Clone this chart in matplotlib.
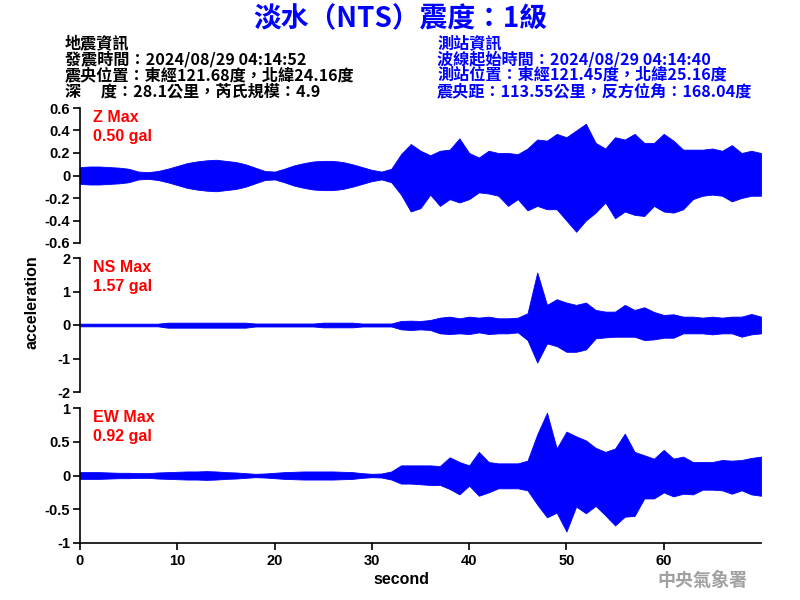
import matplotlib
matplotlib.use("Agg")
import matplotlib.pyplot as plt
from matplotlib import font_manager
import numpy as np

# ---------------- data (envelopes, 1 s steps) ----------------
t = list(range(0, 71))

z_upper = [.075, .08, .08, .075, .07, .06, .035, .03, .04, .06,
           .085, .11, .125, .135, .14, .13, .12, .10, .07, .04,
           .035, .06, .09, .11, .125, .13, .13, .12, .10, .075,
           .05, .035, .06, .19, .28, .22, .18, .22, .23, .33,
           .20, .16, .22, .20, .20, .19, .24, .32, .31, .37,
           .34, .40, .46, .29, .24, .34, .32, .37, .29, .29,
           .37, .31, .23, .23, .23, .24, .22, .27, .20, .22, .20]
z_lower = [-.075, -.08, -.08, -.075, -.07, -.06, -.035, -.03, -.04, -.06,
           -.085, -.11, -.125, -.135, -.14, -.13, -.12, -.10, -.07, -.04,
           -.035, -.06, -.09, -.11, -.125, -.13, -.13, -.12, -.10, -.075,
           -.05, -.035, -.06, -.17, -.32, -.29, -.17, -.27, -.21, -.24,
           -.21, -.15, -.16, -.18, -.27, -.21, -.31, -.27, -.30, -.30,
           -.40, -.50, -.40, -.33, -.24, -.38, -.32, -.35, -.36, -.27,
           -.32, -.33, -.30, -.21, -.18, -.17, -.18, -.23, -.20, -.18, -.18]

ns_upper = [.04, .04, .04, .04, .04, .04, .04, .04, .04, .07,
            .07, .07, .07, .07, .07, .07, .07, .07, .045, .045,
            .045, .045, .045, .045, .045, .07, .07, .07, .07, .045,
            .045, .045, .045, .12, .13, .12, .15, .22, .25, .20,
            .25, .22, .25, .20, .20, .22, .35, 1.57, .60, .77,
            .67, .60, .67, .45, .40, .40, .60, .45, .53, .39,
            .30, .32, .25, .25, .22, .25, .22, .25, .25, .33, .25]
ns_lower = [-.04, -.04, -.04, -.04, -.04, -.04, -.04, -.04, -.04, -.08,
            -.08, -.08, -.08, -.08, -.08, -.08, -.08, -.08, -.045, -.045,
            -.045, -.045, -.045, -.045, -.045, -.07, -.07, -.07, -.07, -.045,
            -.045, -.045, -.045, -.13, -.15, -.13, -.15, -.25, -.27, -.25,
            -.27, -.22, -.27, -.25, -.25, -.22, -.45, -1.12, -.55, -.63,
            -.80, -.80, -.73, -.40, -.37, -.35, -.35, -.35, -.45, -.43,
            -.38, -.38, -.25, -.25, -.25, -.28, -.25, -.25, -.35, -.28, -.25]

ew_upper = [.05, .05, .05, .045, .04, .04, .035, .035, .045, .05,
            .055, .06, .06, .065, .06, .05, .045, .035, .025, .03,
            .04, .05, .055, .06, .06, .06, .06, .055, .05, .035,
            .025, .03, .06, .15, .15, .15, .15, .14, .27, .20,
            .15, .35, .20, .18, .18, .18, .22, .61, .93, .40,
            .65, .58, .52, .41, .35, .40, .62, .35, .30, .25,
            .38, .25, .28, .20, .20, .20, .23, .22, .23, .26, .28]
ew_lower = [-.05, -.05, -.05, -.045, -.04, -.04, -.035, -.035, -.045, -.05,
            -.055, -.06, -.06, -.065, -.06, -.05, -.045, -.035, -.025, -.03,
            -.04, -.05, -.055, -.06, -.06, -.06, -.06, -.055, -.05, -.035,
            -.025, -.03, -.06, -.12, -.12, -.13, -.14, -.14, -.20, -.28,
            -.15, -.30, -.25, -.19, -.19, -.19, -.22, -.43, -.62, -.55,
            -.83, -.46, -.56, -.45, -.59, -.74, -.61, -.60, -.34, -.34,
            -.25, -.31, -.27, -.28, -.21, -.21, -.22, -.27, -.22, -.28, -.30]

channels = ["Z", "NS", "EW"]
max_labels = ["0.50 gal", "1.57 gal", "0.92 gal"]
y_ticks = [[0.6, 0.4, 0.2, 0, -0.2, -0.4, -0.6], [2, 1, 0, -1, -2], [1, 0.5, 0, -0.5, -1]]
y_ticklabels = [["0.6", "0.4", "0.2", "0", "-0.2", "-0.4", "-0.6"],
                ["2", "1", "0", "-1", "-2"],
                ["1", "0.5", "0", "-0.5", "-1"]]
x_ticks = [0, 10, 20, 30, 40, 50, 60]

title = "淡水（NTS）震度：1級"
left_info = ["地震資訊", "發震時間：2024/08/29 04:14:52",
             "震央位置：東經121.68度，北緯24.16度", "深\u3000 度：28.1公里，芮氏規模：4.9"]
right_info = ["測站資訊", "波線起始時間：2024/08/29 04:14:40",
              "測站位置：東經121.45度，北緯25.16度", "震央距：113.55公里，反方位角：168.04度"]

# ---------------- fonts ----------------
names = {f.name for f in font_manager.fontManager.ttflist}
num_font = "Liberation Sans Narrow" if "Liberation Sans Narrow" in names else "Liberation Sans"
cjk = ["Noto Sans CJK TC", "DejaVu Sans"]

fig = plt.figure(figsize=(8, 6), dpi=100)
W, H = 800.0, 600.0

def fx(px):
    return px / W

def fy(py):
    return 1 - py / H

# axes boxes: (top px, bottom px)
boxes = [(108, 243), (258, 392), (408, 543)]
uppers = [z_upper, ns_upper, ew_upper]
lowers = [z_lower, ns_lower, ew_lower]

for i, (top, bot) in enumerate(boxes):
    ax = fig.add_axes([fx(80), fy(bot), fx(761) - fx(80), fy(top) - fy(bot)])
    ax.fill_between(t, lowers[i], uppers[i], color="#0000ff", lw=0.6, edgecolor="#0000ff")
    ax.set_xlim(0, 70)
    lim = y_ticks[i][0]
    ax.set_ylim(-lim, lim)
    ax.set_yticks(y_ticks[i])
    ax.set_yticklabels(y_ticklabels[i], fontfamily=num_font, fontweight="bold", fontsize=10.5)
    for s in ["top", "right"]:
        ax.spines[s].set_visible(False)
    ax.spines["left"].set_linewidth(1.2)
    ax.tick_params(axis="y", direction="out", length=5, width=1.2, pad=2)
    if i < 2:
        ax.spines["bottom"].set_visible(False)
        ax.set_xticks([])
    else:
        ax.spines["bottom"].set_linewidth(1.2)
        ax.set_xticks(x_ticks)
        ax.set_xticklabels([str(v) for v in x_ticks], fontfamily=num_font,
                           fontweight="bold", fontsize=10.5)
        ax.tick_params(axis="x", direction="out", length=5, width=1.2, pad=3)
    fig.text(fx(93), fy(top + 10), f"{channels[i]} Max", color="red",
             fontfamily="Liberation Sans", fontweight="bold", fontsize=11.5, va="center")
    fig.text(fx(93), fy(top + 29), max_labels[i], color="red",
             fontfamily="Liberation Sans", fontweight="bold", fontsize=11.5, va="center")

fig.text(0.5, fy(19), title, color="#0000ff", family=cjk, fontweight="bold",
         fontsize=20, ha="center", va="center")
for j, line in enumerate(left_info):
    fig.text(fx(65), fy(43 + 16 * j), line, color="black", family=cjk, fontweight="bold",
             fontsize=11.6, ha="left", va="center")
for j, line in enumerate(right_info):
    fig.text(fx(437), fy(43 + 16 * j), line, color="#0000ff", family=cjk, fontweight="bold",
             fontsize=11.6, ha="left", va="center")

fig.text(fx(32), fy(302), "acceleration", rotation=90, fontfamily="Liberation Sans",
         fontweight="bold", fontsize=11.5, ha="center", va="center")
fig.text(fx(401), fy(580), "second", fontfamily="Liberation Sans",
         fontweight="bold", fontsize=11.5, ha="center", va="center")
fig.text(fx(702), fy(580), "中央氣象署", color="#a0a0a0", family=cjk, fontweight="bold",
         fontsize=13, ha="center", va="center")

fig.savefig("out.png", dpi=100)
